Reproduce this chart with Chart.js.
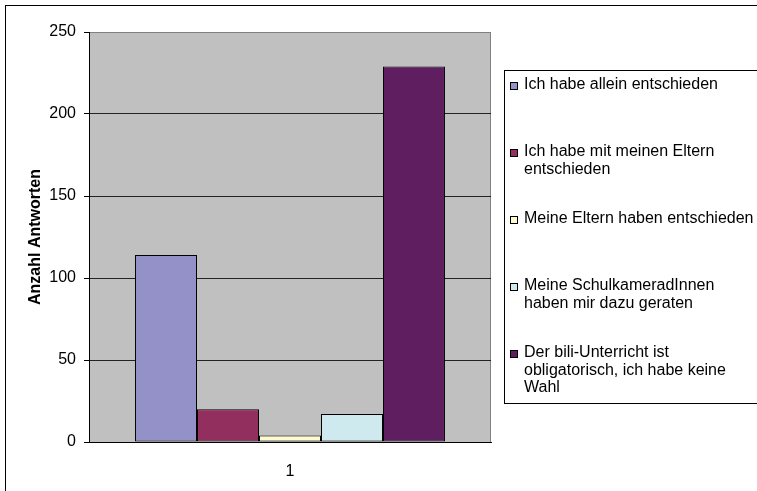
<!DOCTYPE html>
<html>
<head>
<meta charset="utf-8">
<script src="https://cdn.jsdelivr.net/npm/chart.js@4.4.1/dist/chart.umd.min.js"></script>
<style>
  html, body { margin: 0; padding: 0; background: #fff; }
  canvas { display: block; }
</style>
</head>
<body>
<canvas id="chart" width="757" height="491"></canvas>
<script>
// survey answers: who decided on the bilingual class
const categories = ['1'];
const answerLabels = [
  ['Ich habe allein entschieden'],
  ['Ich habe mit meinen Eltern', 'entschieden'],
  ['Meine Eltern haben entschieden'],
  ['Meine SchulkameradInnen', 'haben mir dazu geraten'],
  ['Der bili-Unterricht ist', 'obligatorisch, ich habe keine', 'Wahl']
];
const answerCounts = [114, 20, 4, 17, 229];
const answerColors = ['#9391c8', '#922f5f', '#fffbd0', '#ceeaee', '#5f1e5f'];
const yTicks = [0, 50, 100, 150, 200, 250];
const yTitle = 'Anzahl Antworten';

const FONT = '"Liberation Sans", Arial, sans-serif';

// white page, outer frame, grey plot background with grey top/right edge
const frame = {
  id: 'frame',
  beforeDraw(chart) {
    const { ctx, chartArea: a } = chart;
    ctx.save();
    ctx.fillStyle = '#fff';
    ctx.fillRect(0, 0, chart.width, chart.height);
    ctx.strokeStyle = '#000';
    ctx.lineWidth = 1;
    ctx.strokeRect(5.5, 5.5, chart.width + 10, chart.height + 10);
    ctx.fillStyle = '#c0c0c0';
    ctx.fillRect(a.left, a.top, a.right - a.left, a.bottom - a.top);
    ctx.strokeStyle = '#808080';
    ctx.beginPath();
    ctx.moveTo(a.left, a.top + 0.5);
    ctx.lineTo(a.right - 0.5, a.top + 0.5);
    ctx.lineTo(a.right - 0.5, a.bottom);
    ctx.stroke();
    ctx.restore();
  }
};

// boxed legend on the right with wrapped labels
const boxLegend = {
  id: 'boxLegend',
  afterDraw(chart) {
    const { ctx } = chart;
    ctx.save();
    ctx.strokeStyle = '#000';
    ctx.lineWidth = 1;
    ctx.strokeRect(504.5, 70.5, 300, 333);
    ctx.font = '16px ' + FONT;
    ctx.textBaseline = 'alphabetic';
    chart.data.datasets.forEach((ds, i) => {
      const base = 89 + i * 67;
      ctx.fillStyle = ds.backgroundColor;
      ctx.fillRect(511, base - 6, 6, 6);
      ctx.strokeRect(510.5, base - 6.5, 7, 7);
      ctx.fillStyle = '#000';
      ds.lines.forEach((line, k) => ctx.fillText(line, 524, base + k * 17.7));
    });
    ctx.restore();
  }
};

new Chart(document.getElementById('chart'), {
  type: 'bar',
  data: {
    labels: categories,
    datasets: answerCounts.map((v, i) => ({
      label: answerLabels[i].join(' '),
      lines: answerLabels[i],
      data: [v],
      backgroundColor: answerColors[i],
      borderColor: '#000',
      borderWidth: 1,
      borderSkipped: false,
      categoryPercentage: 0.771,
      barPercentage: 1
    }))
  },
  options: {
    responsive: false,
    animation: false,
    layout: { padding: { top: 32, right: 266, bottom: 0, left: 0 } },
    plugins: { legend: { display: false }, tooltip: { enabled: false } },
    scales: {
      x: {
        grid: { display: false },
        border: { color: '#000', width: 1 },
        ticks: { color: '#000', font: { family: FONT, size: 16 }, padding: 12 },
        afterFit: s => { s.height = 49; }
      },
      y: {
        min: yTicks[0],
        max: yTicks[yTicks.length - 1],
        ticks: { stepSize: yTicks[1] - yTicks[0], color: '#000', font: { family: FONT, size: 16 }, padding: 8 },
        grid: {
          color: c => (c.tick && c.tick.value === yTicks[yTicks.length - 1]) ? '#808080' : '#222',
          tickLength: 5,
          tickColor: '#000'
        },
        border: { color: '#000', width: 1 },
        title: {
          display: true,
          text: yTitle,
          color: '#000',
          font: { family: FONT, size: 16, weight: 'bold' },
          padding: { top: 26, bottom: 0 }
        },
        afterFit: s => { s.width = 89; }
      }
    }
  },
  plugins: [frame, boxLegend]
});
</script>
</body>
</html>
